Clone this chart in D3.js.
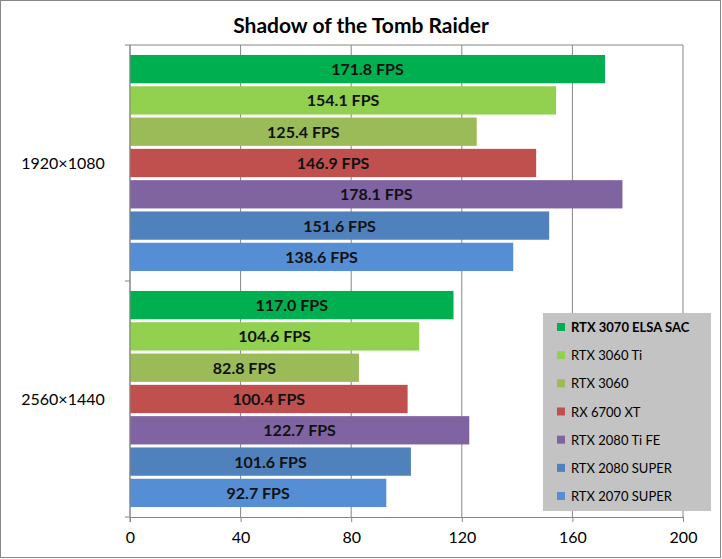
<!DOCTYPE html>
<html><head><meta charset="utf-8">
<script src="https://cdn.jsdelivr.net/npm/d3@7"></script>
<style>body{margin:0;background:#fff}svg{font-family:Lato,"Open Sans",sans-serif}</style>
</head><body>
<svg id="c" width="722" height="559"></svg>
<script>
const resolutions = ["1920×1080", "2560×1440"];
const gpus = ["RTX 3070 ELSA SAC", "RTX 3060 Ti", "RTX 3060", "RX 6700 XT", "RTX 2080 Ti FE", "RTX 2080 SUPER", "RTX 2070 SUPER"];
const colors = ["#00b050", "#92d050", "#9bbb59", "#c0504d", "#8064a2", "#4f81bd", "#558ed5"];
const fps1080 = [171.8, 154.1, 125.4, 146.9, 178.1, 151.6, 138.6];
const fps1440 = [117.0, 104.6, 82.8, 100.4, 122.7, 101.6, 92.7];
const xTicks = [0, 40, 80, 120, 160, 200];
const series = [fps1080, fps1440];

const svg = d3.select("#c");
svg.append("rect").attr("x",0.5).attr("y",0.5).attr("width",720).attr("height",557).attr("fill","#fff").attr("stroke","#888");
const L=130,R=683,T=45,B=517;
const x=d3.scaleLinear().domain([0,200]).range([L,R]);
const y0=d3.scaleBand().domain(resolutions).range([T,B]);
const y1=d3.scaleBand().domain(gpus).range([0,y0.bandwidth()]).paddingOuter(0.27).paddingInner(0);

svg.append("text").attr("x",361).attr("y",33).attr("text-anchor","middle").attr("font-size",21).attr("font-weight","bold").text("Shadow of the Tomb Raider");

svg.append("g").selectAll("line").data(xTicks).join("line")
 .attr("x1",d=>x(d)).attr("x2",d=>x(d)).attr("y1",T).attr("y2",B).attr("stroke","#868686");
svg.append("line").attr("x1",L).attr("x2",R).attr("y1",T).attr("y2",T).attr("stroke","#868686");

resolutions.forEach((r,ri)=>{
  const g=svg.append("g").attr("transform",`translate(0,${y0(r)})`);
  g.selectAll("rect").data(series[ri]).join("rect")
   .attr("x",x(0)).attr("y",(d,i)=>y1(gpus[i])+1.5).attr("height",y1.bandwidth()-3)
   .attr("width",d=>x(d)-x(0)).attr("fill",(d,i)=>colors[i]);
  g.selectAll("text").data(series[ri]).join("text")
   .attr("x",d=>(x(0)+x(d))/2).attr("y",(d,i)=>y1(gpus[i])+y1.bandwidth()/2+6)
   .attr("text-anchor","middle").attr("font-size",16).attr("font-weight","bold").attr("fill","#111")
   .text(d=>d.toFixed(1)+" FPS");
  svg.append("text").attr("x",63).attr("y",y0(r)+y0.bandwidth()/2+6).attr("text-anchor","middle").attr("font-size",16).text(r);
});
// axis
const ax=svg.append("g").attr("transform",`translate(0,${B})`).call(d3.axisBottom(x).tickValues(xTicks).tickSize(5).tickSizeOuter(0));
ax.select(".domain").attr("stroke","#868686");
ax.selectAll("line").attr("stroke","#868686");
ax.selectAll("text").attr("font-size",16).attr("font-family","Lato,sans-serif").attr("dy","1.1em").attr("fill","#000");
svg.append("line").attr("x1",L).attr("x2",L).attr("y1",T).attr("y2",B+5).attr("stroke","#868686");
svg.append("g").selectAll("line").data(resolutions.concat(["end"])).join("line")
 .attr("x1",L-5).attr("x2",L).attr("y1",(d,i)=>T+i*y0.bandwidth()).attr("y2",(d,i)=>T+i*y0.bandwidth()).attr("stroke","#868686");

// legend
const lg=svg.append("g");
lg.append("rect").attr("x",543).attr("y",313).attr("width",168).attr("height",198).attr("fill","#c3c3c3");
const ly=d3.scalePoint().domain(gpus).range([327,496]);
lg.selectAll("rect.k").data(gpus).join("rect").attr("class","k").attr("x",557).attr("y",d=>ly(d)-4).attr("width",8).attr("height",8).attr("fill",(d,i)=>colors[i]);
lg.selectAll("text").data(gpus).join("text").attr("x",571).attr("y",d=>ly(d)+5).attr("font-size",13)
 .attr("font-weight",(d,i)=>i==0?"bold":"normal").text(d=>d);
</script></body></html>
